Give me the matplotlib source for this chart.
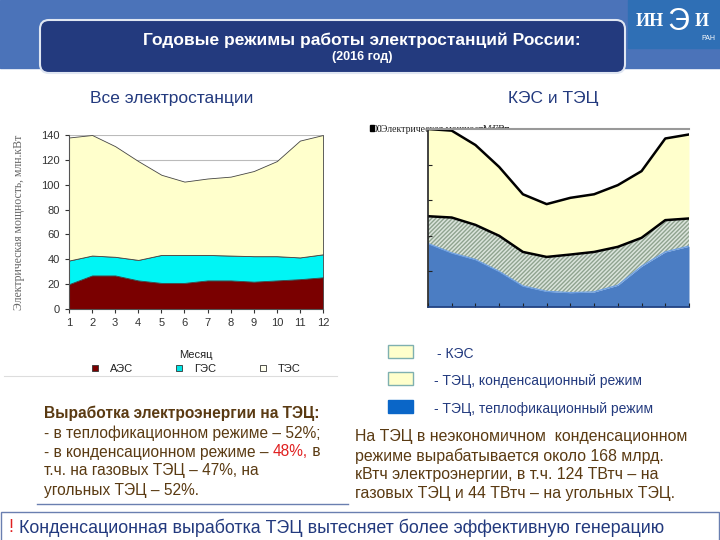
import matplotlib.pyplot as plt
from matplotlib.patches import Rectangle, FancyBboxPatch
import numpy as np

plt.rcParams['font.family'] = ['Liberation Sans', 'DejaVu Sans']

# data for the left chart (all power plants), mln kW
months = [1, 2, 3, 4, 5, 6, 7, 8, 9, 10, 11, 12]
aes = [20, 27, 27, 23, 21, 21, 23, 23, 22, 23, 24, 25.5]
ges = [19, 16, 15, 16.5, 22.5, 22.5, 20.5, 20, 20.5, 19.5, 17.5, 18.5]
tes = [99, 97, 89, 79.5, 64.5, 59, 61.5, 63.5, 68.5, 76.5, 94, 96]
left_labels = ['АЭС', 'ГЭС', 'ТЭС']

# data for the right chart (KES and TETs)
tets_teplo = [53.5, 45.6, 40, 30, 17.7, 13.2, 12.1, 12.7, 18.3, 34.3, 46.4, 51.2]
tets_kond = [23, 29.8, 29.2, 30, 28.7, 29, 32.1, 33.7, 32.4, 24, 26.8, 23.4]
kes = [73.5, 73.2, 67.3, 58, 48.6, 44.5, 47.8, 48.6, 52, 56.2, 68.8, 70.8]
right_labels = ['- КЭС', '- ТЭЦ, конденсационный режим', '- ТЭЦ, теплофикационный режим']

navy = '#233a7e'
brown = '#5a3a12'

fig = plt.figure(figsize=(7.2, 5.4), dpi=100)

# background layer in pixel coordinates
bg = fig.add_axes([0, 0, 1, 1], zorder=0)
bg.set_xlim(0, 720)
bg.set_ylim(540, 0)
bg.axis('off')

# top band and title box
bg.add_patch(Rectangle((0, 0), 720, 68, color='#4b73b9'))
bg.add_patch(FancyBboxPatch((40, 20), 585, 53, boxstyle='round,pad=0,rounding_size=9',
                            facecolor=navy, edgecolor='#dfe6f2', linewidth=1.5))
bg.text(362, 40, 'Годовые режимы работы электростанций России:', color='white',
        fontsize=12.5, fontweight='bold', ha='center', va='center')
bg.text(362, 57, '(2016 год)', color='white', fontsize=9, fontweight='bold',
        ha='center', va='center')

# logo
bg.add_patch(Rectangle((628, 0), 92, 48, color='#2f6fb5'))
bg.text(650, 22, 'ИН', color='white', fontsize=13, fontweight='bold',
        family=['Liberation Serif'], ha='center', va='center')
bg.text(678, 22, 'Э', color='white', fontsize=22,
        family=['Liberation Sans'], ha='center', va='center')
bg.text(702, 22, 'И', color='white', fontsize=13, fontweight='bold',
        family=['Liberation Serif'], ha='center', va='center')
bg.text(708, 39, 'РАН', color='white', fontsize=5, ha='center', va='center')

# section titles
bg.text(172, 98, 'Все электростанции', color=navy, fontsize=12.5, ha='center', va='center')
bg.text(553, 98, 'КЭС и ТЭЦ', color=navy, fontsize=12.5, ha='center', va='center')

# left chart
ax = fig.add_axes([69/720, 1-309/540, 254/720, 174/540], zorder=2)
ax.stackplot(months, aes, ges, tes, colors=['#7a0000', '#00f5f5', '#ffffcc'],
             edgecolor='#444444', linewidth=0.6)
ax.set_xlim(1, 12)
ax.set_ylim(0, 140)
ax.set_xticks(months)
ax.set_yticks(range(0, 141, 20))
ax.grid(axis='y', color='#bbbbbb', linewidth=0.8)
ax.set_axisbelow(True)
for s in ['top', 'right']:
    ax.spines[s].set_visible(False)
ax.spines['left'].set_color('#555555')
ax.spines['bottom'].set_color('#555555')
ax.tick_params(labelsize=8, colors='#333333', length=3)
ax.set_xlabel('Месяц', fontsize=8, color='#222222', labelpad=16)
ax.set_ylabel('Электрическая мощность, млн.кВт', fontsize=8.5, color='#666666',
              family=['Liberation Serif'], labelpad=12)

# left legend
leg_colors = ['#7a0000', '#00e5e5', '#ffffee']
for i, (lab, c) in enumerate(zip(left_labels, leg_colors)):
    x0 = 95 + 84*i
    bg.add_patch(Rectangle((x0-3, 365), 6, 6, facecolor=c, edgecolor='#333333', linewidth=0.6))
    bg.text(x0+15, 368.5, lab, fontsize=8, color='#222222', va='center')
bg.plot([4, 337], [376, 376], color='#dddddd', linewidth=0.8)

# right chart
ax2 = fig.add_axes([428/720, 1-307/540, 261/720, 178/540], zorder=2)
y1 = np.array(tets_teplo)
y2 = y1 + np.array(tets_kond)
y3 = y2 + np.array(kes)
ax2.fill_between(months, 0, y1, color='#4b7dc3', linewidth=0)
ax2.fill_between(months, y1, y2, facecolor='#dbe4dc', edgecolor='#8fa38f',
                 hatch='////////', linewidth=0)
ax2.fill_between(months, y2, y3, color='#ffffcc', linewidth=0)
ax2.plot(months, y1, color='#6fa0e0', linewidth=1.0)
ax2.plot(months, y2, color='black', linewidth=1.8)
ax2.plot(months, y3, color='black', linewidth=1.8)
ax2.set_xlim(1, 12)
ax2.set_ylim(0, 150)
ax2.set_xticks(months)
ax2.set_yticks([30, 60, 90, 120])
ax2.tick_params(direction='in', length=3, labelleft=False, labelbottom=False,
                color='#222222')
ax2.spines['right'].set_visible(False)
ax2.spines['top'].set_color('#999999')
ax2.spines['top'].set_linewidth(1.5)
ax2.spines['left'].set_color('#222222')
ax2.spines['left'].set_linewidth(1.2)
ax2.spines['bottom'].set_color('#1f3f7f')
ax2.spines['bottom'].set_linewidth(1.2)

# garbled overlapping axis labels as on the slide
bg.add_patch(Rectangle((370, 125), 4, 6, color='black'))
bg.text(373, 129, '00', fontsize=7, family=['Liberation Serif'], va='center')
bg.text(381, 129, 'Электрическая мощность, ГВт', fontsize=7,
        family=['Liberation Serif'], va='center', color='#222222')
bg.text(483, 129, 'Месяц', fontsize=7, family=['Liberation Serif'], va='center',
        color='#222222')

# right legend
r_colors = ['#ffffcc', '#ffffcc', '#0a66c8']
r_edges = ['#7fb0b0', '#7fb0b0', '#0a66c8']
r_y = [351, 378, 406]
r_tx = [437, 434, 434]
for lab, c, e, yy, tx in zip(right_labels, r_colors, r_edges, r_y, r_tx):
    bg.add_patch(Rectangle((388, yy-6.5), 25, 13, facecolor=c, edgecolor=e, linewidth=1))
    bg.text(tx, yy+3, lab, fontsize=10, color=navy, va='center')

# left text block
fs = 11.2
bg.text(44, 413, 'Выработка электроэнергии на ТЭЦ:', fontsize=fs, fontweight='bold',
        color=brown, va='center')
lines_left = ['- в теплофикационном режиме – 52%;', None,
              'т.ч. на газовых ТЭЦ – 47%, на', 'угольных ТЭЦ – 52%.']
for i, t in enumerate(lines_left):
    yy = 433 + 19*i
    if t is None:
        p1 = bg.text(44, yy, '- в конденсационном режиме – ', fontsize=fs, color=brown, va='center')
        fig.canvas.draw()
        bb = p1.get_window_extent().transformed(bg.transData.inverted())
        p2 = bg.text(bb.x1, yy, '48%,', fontsize=fs, color='#e02020', va='center')
        fig.canvas.draw()
        bb2 = p2.get_window_extent().transformed(bg.transData.inverted())
        bg.text(bb2.x1, yy, ' в', fontsize=fs, color=brown, va='center')
    else:
        bg.text(44, yy, t, fontsize=fs, color=brown, va='center')
bg.plot([37, 348], [504, 504], color='#6a7fb0', linewidth=1)

# right text block
lines_right = ['На ТЭЦ в неэкономичном  конденсационном',
               'режиме вырабатывается около 168 млрд.',
               'кВтч электроэнергии, в т.ч. 124 ТВтч – на',
               'газовых ТЭЦ и 44 ТВтч – на угольных ТЭЦ.']
for i, t in enumerate(lines_right):
    bg.text(355, 437 + 18.7*i, t, fontsize=11.4, color=brown, va='center')

# bottom box
bg.add_patch(Rectangle((1, 512), 718, 30, facecolor='white', edgecolor='#6a7fb0', linewidth=1))
bg.text(8, 528, '!', fontsize=12.9, color='#e02020', va='center')
bg.text(19, 528, 'Конденсационная выработка ТЭЦ вытесняет более эффективную генерацию',
        fontsize=12.9, color=navy, va='center')

fig.savefig('out.png', dpi=100)
